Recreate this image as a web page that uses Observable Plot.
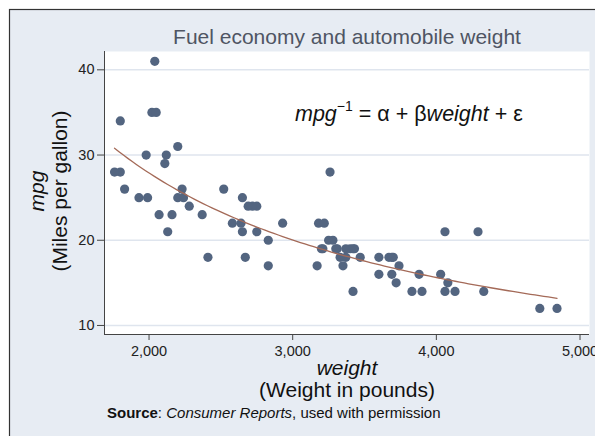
<!DOCTYPE html>
<html>
<head>
<meta charset="utf-8">
<script src="https://cdn.jsdelivr.net/npm/d3@7"></script>
<script src="https://cdn.jsdelivr.net/npm/@observablehq/plot@0.6"></script>
<style>
  html, body { margin: 0; padding: 0; background: white; }
  svg { display: block; }
</style>
</head>
<body>
<div id="chart"></div>
<script>
// Stata auto dataset: weight (lbs) and mpg
const weight = [2930,3350,2640,3250,4080,3670,2230,3280,3880,3400,4330,3900,4290,2110,3690,3180,3220,2750,3430,2120,3600,3600,3740,1800,2650,4840,4720,3830,2580,4060,3720,3370,4130,2830,4060,3310,3300,3690,3370,2720,4030,3260,1800,2200,2520,3330,3700,3470,3210,3200,3420,2690,2830,2070,2650,2370,2020,2280,2750,2130,2240,1760,1980,3420,1830,2050,2410,2200,2670,2160,2040,1930,1990,3170];
const mpg =    [22,17,22,20,15,18,26,20,16,19,14,14,21,29,16,22,22,24,19,30,18,16,17,28,21,12,12,14,22,14,15,18,14,20,21,19,19,18,19,24,16,28,34,25,26,18,18,18,19,19,19,24,17,23,25,23,35,24,21,21,25,28,30,14,26,35,18,31,18,23,41,25,25,17];
const xTicks = [2000, 3000, 4000, 5000];
const yTicks = [10, 20, 30, 40];

const cars = weight.map((w, i) => ({weight: w, mpg: mpg[i]}));

// OLS fit of 1/mpg on weight
const inv = mpg.map(m => 1 / m);
const mx = d3.mean(weight), my = d3.mean(inv);
const beta = d3.sum(weight, (w, i) => (w - mx) * (inv[i] - my)) / d3.sum(weight, w => (w - mx) ** 2);
const alpha = my - beta * mx;
const wMin = d3.min(weight), wMax = d3.max(weight);
const fit = d3.range(0, 101).map(k => {
  const w = wMin + (wMax - wMin) * k / 100;
  return {weight: w, mpg: 1 / (alpha + beta * w)};
});

const font = "Liberation Sans, Arial, Helvetica, sans-serif";
const W = 595, H = 436;
const mL = 104, mR = 6, mT = 51, mB = 102;
const xDom = [1690, 5066], yDom = [8.94, 42.15];

const plot = Plot.plot({
  width: W, height: H,
  marginLeft: mL, marginRight: mR, marginTop: mT, marginBottom: mB,
  style: {background: "transparent", fontFamily: font, color: "#222"},
  x: {domain: xDom},
  y: {domain: yDom},
  marks: [
    Plot.frame({fill: "white", stroke: null}),
    Plot.gridY(yTicks, {stroke: "#dfe5ee", strokeOpacity: 1, strokeWidth: 1.5}),
    Plot.ruleX([xDom[0]], {stroke: "#444", strokeWidth: 1}),
    Plot.ruleY([yDom[0]], {stroke: "#444", strokeWidth: 1}),
    Plot.axisY(yTicks, {tickSize: 7, tickPadding: 3, fontSize: 14.5, stroke: "#444", fill: "#222", label: null}),
    Plot.axisX(xTicks, {tickSize: 6, tickPadding: 5, fontSize: 14.5, stroke: "#444", fill: "#222", label: null, tickFormat: d3.format(",")}),
    Plot.dot(cars, {x: "weight", y: "mpg", r: 4.6, fill: "#536580", stroke: null}),
    Plot.line(fit, {x: "weight", y: "mpg", stroke: "#a46a58", strokeWidth: 1.3, curve: "linear"})
  ]
});

const svg = d3.select(plot);
// outer graph region
svg.insert("rect", ":first-child")
  .attr("x", 9.5).attr("y", 9.5).attr("width", 700).attr("height", 600)
  .attr("fill", "#e7ecf3").attr("stroke", "#333").attr("stroke-width", 1.2);

const g = svg.append("g").attr("font-family", font).attr("text-anchor", "start");

g.append("text").attr("x", 347).attr("y", 44).attr("text-anchor", "middle")
  .attr("font-size", 21).attr("fill", "#4f5563").text("Fuel economy and automobile weight");

// equation annotation
const eq = g.append("text").attr("x", 295).attr("y", 121).attr("font-size", 21.5).attr("fill", "#111").attr("text-anchor", "start");
eq.append("tspan").attr("font-style", "italic").text("mpg");
eq.append("tspan").attr("font-size", 14).attr("dy", -10).text("−1");
eq.append("tspan").attr("dy", 10).text(" = α + β");
eq.append("tspan").attr("font-style", "italic").text("weight");
eq.append("tspan").text(" + ε");

// y axis title
g.append("text").attr("transform", "translate(37,191) rotate(-90)").attr("text-anchor", "middle")
  .attr("dy", "0.35em").attr("font-size", 21).attr("font-style", "italic").attr("fill", "#111").text("mpg");
g.append("text").attr("transform", "translate(60,191) rotate(-90)").attr("text-anchor", "middle")
  .attr("dy", "0.35em").attr("font-size", 21).attr("fill", "#111").text("(Miles per gallon)");

// x axis title
g.append("text").attr("x", 347).attr("y", 375).attr("text-anchor", "middle")
  .attr("font-size", 21).attr("font-style", "italic").attr("fill", "#111").text("weight");
g.append("text").attr("x", 347).attr("y", 397).attr("text-anchor", "middle")
  .attr("font-size", 21).attr("fill", "#111").text("(Weight in pounds)");

// caption
const cap = g.append("text").attr("x", 107).attr("y", 418).attr("font-size", 15).attr("fill", "#111").attr("text-anchor", "start");
cap.append("tspan").attr("font-weight", "bold").text("Source");
cap.append("tspan").text(": ");
cap.append("tspan").attr("font-style", "italic").text("Consumer Reports");
cap.append("tspan").text(", used with permission");

document.getElementById("chart").appendChild(plot);
</script>
</body>
</html>
